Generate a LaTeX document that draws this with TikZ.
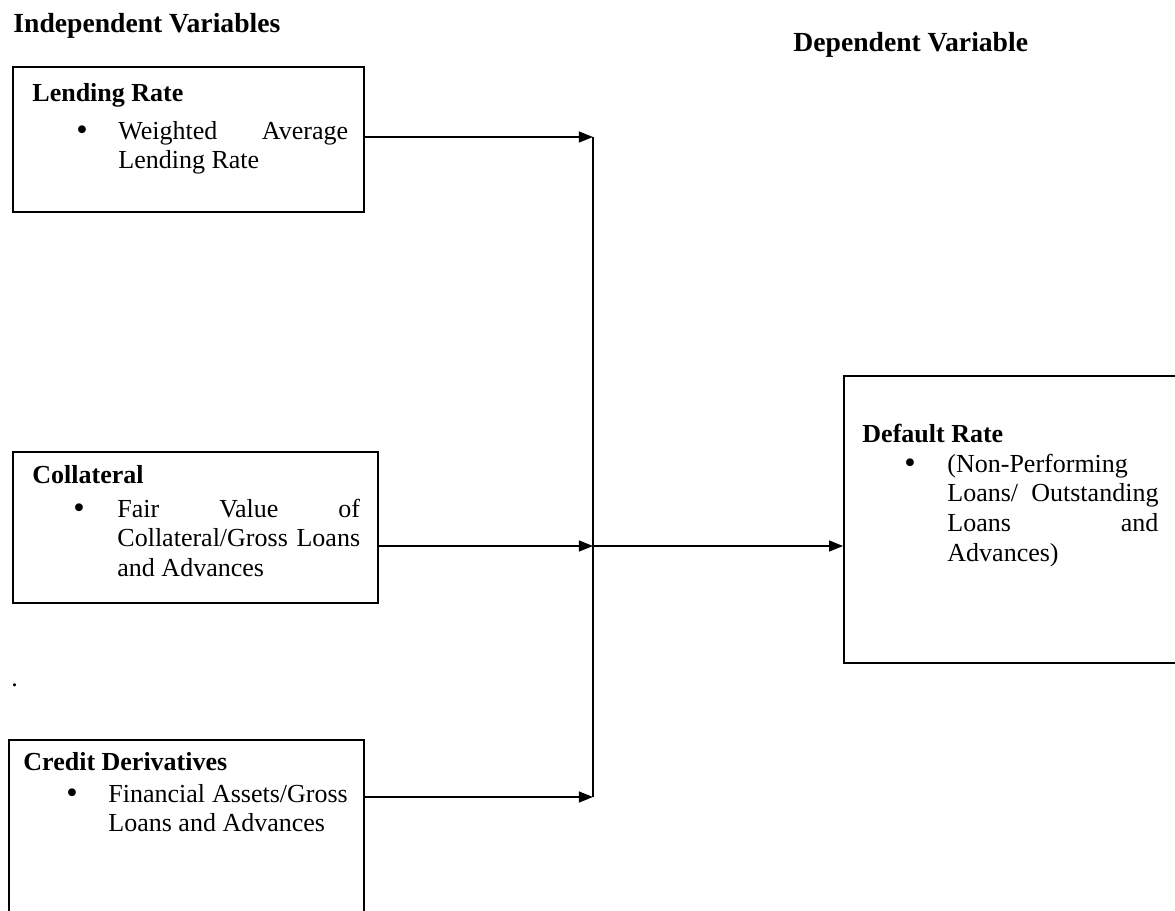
\documentclass[tikz,border=0pt]{standalone}
\usepackage{fontspec}
\setmainfont{Liberation Serif}
\usetikzlibrary{arrows.meta, fit}

\begin{document}
\begin{tikzpicture}[x=0.4615pt, y=-0.4615pt,
    varbox/.style={draw, line width=0.8pt, inner sep=0pt},
    head/.style={anchor=base west, inner sep=0pt, font=\fontsize{12.75}{15}\selectfont\bfseries},
    boxtitle/.style={anchor=base west, inner sep=0pt, font=\fontsize{12}{13.8}\selectfont\bfseries},
    bull/.style={anchor=base, inner sep=0pt, font=\fontsize{15}{15}\selectfont},
    itemtext/.style={anchor=base west, inner sep=0pt, align=justify, text width=#1, font=\fontsize{12}{13.8}\selectfont},
    link/.style={line width=0.8pt, -{Triangle[length=6.5pt, width=5pt]}}]
    \clip (0,0) rectangle (1175,910);

    % headings
    \node[head] (indep) at (13,32) {Independent Variables};
    \node[head] (dep) at (793,51) {Dependent Variable};

    % lending rate
    \node[varbox, fit={(13,67) (364,212)}] (lend) {};
    \node[boxtitle] (lendtitle) at (32,101) {Lending Rate};
    \node[bull] (lenddot) at (82,140) {\textbullet};
    \node[itemtext=106pt] (lendtext) at (118,139) {Weighted Average\linebreak Lending Rate};

    % collateral
    \node[varbox, fit={(13,452) (378,603)}] (coll) {};
    \node[boxtitle] (colltitle) at (32,483) {Collateral};
    \node[bull] (colldot) at (79,518) {\textbullet};
    \node[itemtext=112pt] (colltext) at (117,517) {Fair Value of\linebreak Collateral/Gross Loans\linebreak and Advances};

    \node[boxtitle, font=\fontsize{12}{13.8}\selectfont] (stray) at (11,686) {.};

    % credit derivatives
    \node[varbox, fit={(9,740) (364,950)}] (cred) {};
    \node[boxtitle] (credtitle) at (23,770) {Credit Derivatives};
    \node[bull] (creddot) at (72,803) {\textbullet};
    \node[itemtext=110.5pt] (credtext) at (108,802) {Financial Assets/Gross\linebreak Loans and Advances};

    % default rate
    \node[varbox, fit={(844,376) (1200,663)}] (dflt) {};
    \node[boxtitle] (dflttitle) at (862,442) {Default Rate};
    \node[bull] (dfltdot) at (910,473) {\textbullet};
    \node[itemtext=97.4pt] (dflttext) at (947,472) {(Non-Performing\newline Loans/ Outstanding\linebreak Loans and\linebreak Advances)};

    % connectors
    \coordinate (jtop) at (593,137);
    \coordinate (jmid) at (593,546);
    \coordinate (jbot) at (593,797);
    \draw[line width=0.8pt] (jtop) -- (jbot);
    \draw[link] (lend.east |- jtop) -- (jtop);
    \draw[link] (coll.east |- jmid) -- (jmid);
    \draw[link] (cred.east |- jbot) -- (jbot);
    \draw[link] (jmid) -- (dflt.west |- jmid);
\end{tikzpicture}
\end{document}
